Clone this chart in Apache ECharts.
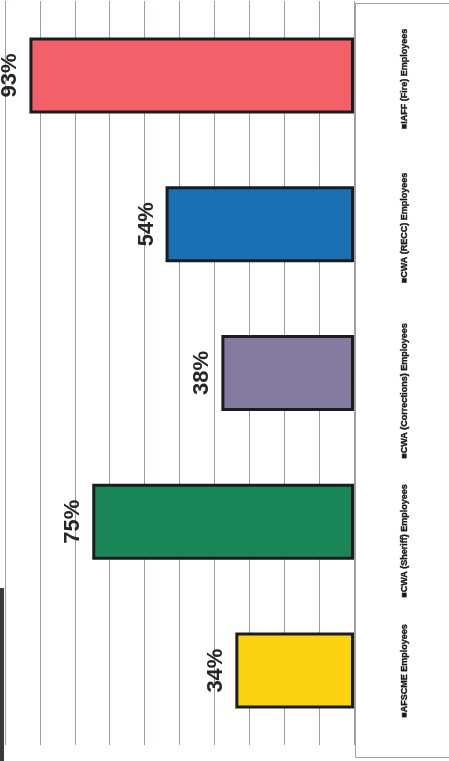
<!DOCTYPE html>
<html>
<head>
<meta charset="utf-8">
<script src="https://cdn.jsdelivr.net/npm/echarts@6/dist/echarts.min.js"></script>
<style>
html,body{margin:0;padding:0;background:#fff;}
#chart{width:449px;height:761px;}
</style>
</head>
<body>
<div id="chart"></div>
<script>
// Data (categories listed bottom to top as they appear in the picture)
var categories = ['AFSCME Employees', 'CWA (Sheriff) Employees', 'CWA (Corrections) Employees', 'CWA (RECC) Employees', 'IAFF (Fire) Employees'];
var values = [34, 75, 38, 54, 93];
var valueTicks = [0, 10, 20, 30, 40, 50, 60, 70, 80, 90, 100];

// Styles / layout (kept separate from data)
var palette = ['#FBD20F', '#1A8657', '#857AA0', '#1B70B4', '#F2606A'];
var legendCenterY = [671, 541, 391, 228, 79];
var legendX = 405;

var chart = echarts.init(document.getElementById('chart'), null, {renderer: 'canvas'});

var graphics = [
  {type: 'rect', shape: {x: 355.5, y: 3.5, width: 100, height: 754}, style: {fill: 'none', stroke: '#a0a0a0', lineWidth: 1}, z: 1},
  {type: 'rect', shape: {x: 0, y: 588, width: 4, height: 173}, style: {fill: '#3a3a3a'}, z: 1}
];
categories.forEach(function (name, i) {
  graphics.push({
    type: 'text',
    x: legendX,
    y: legendCenterY[i],
    rotation: Math.PI / 2,
    style: {
      text: '\u25A0' + name,
      fill: '#1a1a1a',
      stroke: '#1a1a1a',
      lineWidth: 0.4,
      fontSize: 9,
      fontWeight: 'bold',
      fontFamily: 'Liberation Sans',
      align: 'center',
      verticalAlign: 'middle'
    },
    z: 5
  });
});

chart.setOption({
  animation: false,
  backgroundColor: '#ffffff',
  color: palette,
  grid: {left: 5, right: 95, top: 1, bottom: 16, containLabel: false},
  xAxis: {
    type: 'value',
    min: valueTicks[0],
    max: valueTicks[valueTicks.length - 1],
    interval: valueTicks[1] - valueTicks[0],
    inverse: true,
    axisLabel: {show: false},
    axisLine: {show: false},
    axisTick: {show: false},
    splitLine: {show: true, lineStyle: {color: '#97a0aa', width: 1}}
  },
  yAxis: {
    type: 'category',
    data: categories,
    axisLabel: {show: false},
    axisLine: {show: false},
    axisTick: {show: false},
    splitLine: {show: false}
  },
  series: [{
    type: 'bar',
    data: values,
    colorBy: 'data',
    barWidth: 76,
    itemStyle: {borderColor: '#1c1c1c', borderWidth: 3},
    label: {
      show: true,
      position: 'left',
      distance: 8,
      rotate: 90,
      align: 'center',
      verticalAlign: 'bottom',
      formatter: '{c}%',
      fontSize: 22,
      fontWeight: 'bold',
      fontFamily: 'Liberation Sans',
      color: '#262626'
    },
    z: 3
  }],
  graphic: graphics
});
</script>
</body>
</html>
